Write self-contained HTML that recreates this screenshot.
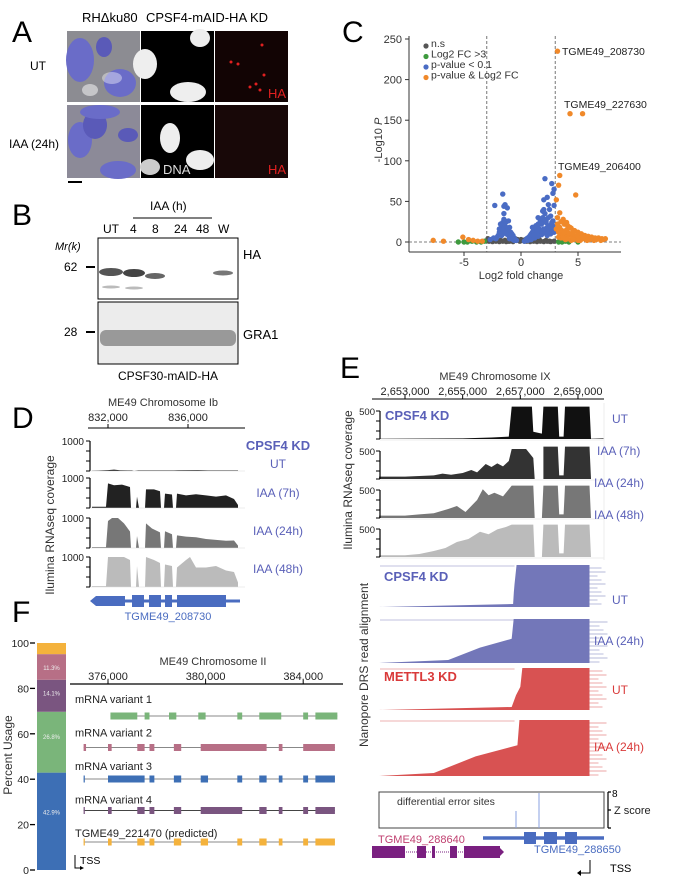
<!DOCTYPE html>
<html><head><meta charset="utf-8"><style>
html,body{margin:0;padding:0;background:#fff;}
svg{display:block;font-family:"Liberation Sans",Arial,sans-serif;}
</style></head><body>
<svg id="fig" width="678" height="890" viewBox="0 0 678 890" xmlns="http://www.w3.org/2000/svg">
<g>
<text x="12" y="42" font-size="30">A</text>
<text x="82" y="22" font-size="13">RHΔku80</text>
<text x="146" y="22" font-size="13">CPSF4-mAID-HA KD</text>
<text x="30" y="70" font-size="12">UT</text>
<text x="9" y="148" font-size="12">IAA (24h)</text>
<rect x="67" y="31" width="73" height="71" fill="#8c8c92"/>
<ellipse cx="80" cy="60" rx="14" ry="22" fill="#6a6cc8"/><ellipse cx="104" cy="47" rx="8" ry="10" fill="#5a5ab8"/><ellipse cx="120" cy="83" rx="16" ry="14" fill="#6a6cc8"/><ellipse cx="90" cy="90" rx="8" ry="6" fill="#fff" opacity=".5"/><ellipse cx="112" cy="78" rx="10" ry="6" fill="#fff" opacity=".4"/>
<rect x="141" y="31" width="73" height="71" fill="#000"/>
<ellipse cx="145" cy="64" rx="12" ry="15" fill="#eee"/><ellipse cx="200" cy="38" rx="10" ry="9" fill="#eee"/><ellipse cx="188" cy="92" rx="18" ry="10" fill="#eee"/>
<rect x="215" y="31" width="73" height="71" fill="#120404"/>
<text x="268" y="98" font-size="13" fill="#e02020">HA</text>
<circle cx="231" cy="62" r="1.5" fill="#e02020"/><circle cx="238" cy="64" r="1.5" fill="#e02020"/><circle cx="262" cy="45" r="1.5" fill="#e02020"/><circle cx="264" cy="75" r="1.5" fill="#e02020"/><circle cx="256" cy="84" r="1.5" fill="#e02020"/><circle cx="260" cy="90" r="1.5" fill="#e02020"/><circle cx="250" cy="87" r="1.5" fill="#e02020"/>
<rect x="67" y="105" width="73" height="73" fill="#8c8a98"/>
<ellipse cx="80" cy="140" rx="12" ry="18" fill="#6a6cc8"/><ellipse cx="95" cy="125" rx="12" ry="14" fill="#5a5ab8"/><ellipse cx="118" cy="170" rx="18" ry="9" fill="#6a6cc8"/><ellipse cx="100" cy="112" rx="20" ry="7" fill="#6a6cc8"/><ellipse cx="128" cy="135" rx="10" ry="7" fill="#5a5ab8"/>
<rect x="141" y="105" width="73" height="73" fill="#000"/>
<ellipse cx="170" cy="138" rx="10" ry="15" fill="#eee"/><ellipse cx="200" cy="160" rx="14" ry="10" fill="#eee"/><ellipse cx="150" cy="167" rx="10" ry="8" fill="#ccc"/>
<text x="163" y="174" font-size="13" fill="#ddd">DNA</text>
<rect x="215" y="105" width="73" height="73" fill="#180808"/>
<text x="268" y="174" font-size="13" fill="#e02020">HA</text>
<rect x="68" y="181" width="14" height="2" fill="#000"/>
</g>
<g>
<text x="12" y="225" font-size="30">B</text>
<text x="150" y="210" font-size="12">IAA (h)</text>
<line x1="133" y1="218" x2="212" y2="218" stroke="#000" stroke-width="1"/>
<text y="233" font-size="12"><tspan x="103">UT</tspan><tspan x="130">4</tspan><tspan x="152">8</tspan><tspan x="174">24</tspan><tspan x="196">48</tspan><tspan x="218">W</tspan></text>
<text x="55" y="250" font-size="11" font-style="italic">Mr(k)</text>
<text x="64" y="271" font-size="12">62</text><rect x="86" y="266" width="9" height="2"/>
<text x="64" y="336" font-size="12">28</text><rect x="86" y="331" width="9" height="2"/>
<rect x="98" y="238" width="140" height="61" fill="#fff" stroke="#000"/>
<ellipse cx="111" cy="272" rx="12" ry="4" fill="#555"/><ellipse cx="134" cy="273" rx="11" ry="4" fill="#444"/><ellipse cx="155" cy="276" rx="10" ry="3" fill="#666"/><ellipse cx="223" cy="273" rx="10" ry="2.5" fill="#777"/>
<ellipse cx="111" cy="287" rx="9" ry="1.5" fill="#bbb"/><ellipse cx="134" cy="288" rx="9" ry="1.5" fill="#bbb"/>
<rect x="98" y="302" width="140" height="62" fill="#ececec" stroke="#000"/>
<rect x="100" y="330" width="136" height="16" fill="#999" rx="6"/>
<text x="243" y="259" font-size="13">HA</text>
<text x="243" y="339" font-size="13">GRA1</text>
<text x="168" y="380" font-size="12" text-anchor="middle">CPSF30-mAID-HA</text>
</g>
<g id="volcano"></g>
<g id="panelD"></g>
<g id="panelE"></g>
<g id="panelF"></g>
</svg>
<script>
const NS="http://www.w3.org/2000/svg";
function mk(p,tag,a,txt){const e=document.createElementNS(NS,tag);for(const k in a)e.setAttribute(k,a[k]);if(txt!==undefined)e.textContent=txt;p.appendChild(e);return e;}

const volcTicksX=[-5,0,5];
const volcTicksY=[0,50,100,150,200,250];
const nsX=[-2.8,-2.5,-2.2,-1.9,-1.6,-1.3,-1,-0.7,-0.4,-0.1,0.2,0.5,0.8,1.1,1.4,1.7,2,2.3,2.6,2.9,-2.6,-1.4,-0.3,0.4,1.2,2.2,-2.9,-2.3,-1.8,-1.1,-0.5,0,0.3,0.9,1.6,2.5];
const nsY=[1,0.5,1,0.5,1,0.5,1,0.5,2,1,2,1,0.5,1,0.5,1,0.5,1,0.5,1,3,2,3,3,2,2,4,3,2,1,4,3,1,2,3,1];
const fcX=[-5.5,-5,-4.7,-4.3,-3.9,-3.5,-3.2,3.3,3.6,3.9,4.2,5,3.5];
const fcY=[0,0,0,1,0,0,1,0,0,1,0,0,2];
const pX=[-2.3,-1.6,-1.5,-1.4,-1.2,-1.3,-1.1,-1.5,-1.0,-0.9,-0.8,-0.7,-0.6,-0.5,-0.4,-1.4,-1.6,-1.8,-2,-2.4,-2.7,-1.2,-1.0,-0.8,-0.6,
 0.4,0.5,0.7,0.9,1.1,1.3,1.5,1.7,1.9,2.1,2.3,2.5,2.7,2.9,2.0,2.1,2.4,2.8,1.8,1.4,1.0,0.6,2.6,2.2,1.6,1.2,0.8,2.9,2.5,2.0,1.5,2.3,2.8,1.9,
 -1.9,-1.7,-1.5,-1.3,-1.1,-0.9,-1.8,-1.6,-1.4,-1.2,-2.1,-1.7,-1.3,-2.2,-1.5,-1.0,-0.7,-1.9,-1.4,-1.1,
 0.3,0.6,0.9,1.2,1.5,1.8,2.1,2.4,2.7,1.0,1.3,1.6,1.9,2.2,2.5,2.8,1.4,1.7,2.0,2.3,2.6,2.9,0.8,1.1,1.8,2.1,2.4,2.7,1.5,2.0];
const pY=[45,59,44,46,42,25,26,35,18,12,10,8,5,3,2,15,20,10,8,5,3,12,6,4,2,
 2,4,6,10,14,18,22,26,30,78,55,40,72,65,52,35,46,60,28,20,12,5,32,24,16,8,3,45,20,14,10,8,26,38,
 12,14,16,18,10,6,22,24,20,14,6,8,10,4,28,4,3,16,12,8,
 1,2,3,5,7,9,11,13,15,18,20,22,24,26,18,20,12,14,16,18,10,12,8,8,22,28,30,24,30,40];
const bX=[3.2,4.3,5.4,3.4,3.3,4.8,3.1,-7.7,-6.8,-5.1,-4.6,-4.2,-3.8,-3.4,
 3.2,3.5,3.8,4.1,4.4,4.7,5,5.3,5.6,5.9,6.2,6.5,6.8,7.1,7.4,3.3,3.6,3.9,4.2,4.5,4.8,5.1,5.4,5.7,6,3.4,3.7,4,4.3,4.6,3.5,3.9,4.4,5.2,6.4,7,3.1,3.6,
 3.2,3.4,3.6,3.8,4.0,4.2,4.5,4.9,5.5,6.1,6.6,7.2,3.3,3.7,4.1,4.6,5.0,5.8];
const bY=[235,158,158,82,70,58,52,2,1,6,3,2,1,1,
 30,25,22,20,17,14,12,10,8,7,6,5,5,4,4,12,10,8,9,7,6,5,4,3,3,36,28,24,18,13,5,3,2,2,2,2,16,8,
 22,18,14,12,15,11,10,8,6,4,3,3,6,5,4,3,2,2];

(function(){
 const g=document.getElementById('volcano');
 const sx=v=>521+v*11.4, sy=v=>242-v*0.812;
 mk(g,'text',{x:342,y:42,'font-size':30,},'C');
 mk(g,'line',{x1:409,y1:36,x2:409,y2:252,stroke:'#333'});
 mk(g,'line',{x1:409,y1:252,x2:621,y2:252,stroke:'#333'});
 volcTicksY.forEach(t=>{mk(g,'line',{x1:405,x2:409,y1:sy(t),y2:sy(t),stroke:'#333'});
  const e=mk(g,'text',{x:402,y:sy(t)+4,'font-size':11,'text-anchor':'end',fill:'#333'},String(t));
  });
 volcTicksX.forEach(t=>{mk(g,'line',{x1:sx(t),x2:sx(t),y1:252,y2:256,stroke:'#333'});
  const e=mk(g,'text',{x:sx(t),y:266,'font-size':11,'text-anchor':'middle',fill:'#333'},String(t));
  });
 mk(g,'line',{x1:sx(-3),x2:sx(-3),y1:36,y2:252,stroke:'#555','stroke-dasharray':'3,2','stroke-width':0.8});
 mk(g,'line',{x1:sx(3),x2:sx(3),y1:36,y2:252,stroke:'#555','stroke-dasharray':'3,2','stroke-width':0.8});
 mk(g,'line',{x1:409,x2:621,y1:sy(0),y2:sy(0),stroke:'#555','stroke-dasharray':'3,2','stroke-width':0.8});
 const groups=[[nsX,nsY,'#555','dot-ns'],[fcX,fcY,'#3e9a3e','dot-fc'],[pX,pY,'#4a6cc4','dot-pvalue'],[bX,bY,'#f0892a','dot-both']];
 groups.forEach(([X,Y,c,n])=>X.forEach((x,i)=>{const d=mk(g,'circle',{cx:sx(x),cy:sy(Y[i]),r:2.7,fill:c});
  }));
 const leg=[['n.s','#555'],['Log2 FC >3','#3e9a3e'],['p-value < 0.1','#4a6cc4'],['p-value & Log2 FC','#f0892a']];
 leg.forEach(([t,c],i)=>{const y=46+i*10.5;mk(g,'circle',{cx:426,cy:y,r:2.6,fill:c});
  const e=mk(g,'text',{x:431,y:y+1,'font-size':10.5,fill:'#333'},t);
  });
 [['TGME49_208730',562,55],['TGME49_227630',564,108],['TGME49_206400',558,170]].forEach(([t,x,y])=>{
  const e=mk(g,'text',{x:x,y:y,'font-size':10.5,fill:'#222'},t);});
 const xt=mk(g,'text',{x:521,y:279,'font-size':11,'text-anchor':'middle',fill:'#333'},'Log2 fold change');
 
 const yt=mk(g,'text',{x:0,y:0,'font-size':11,'text-anchor':'middle',fill:'#333',transform:'translate(382,140) rotate(-90)'},'-Log10 ');
 mk(yt,'tspan',{'font-style':'italic'},'P');
 
})();

function area(g,pts,sx,base,top,vmax,fill,name){
 const h=base-top;let d='M'+sx(pts[0][0])+','+base;
 pts.forEach(p=>{d+=' L'+sx(p[0]).toFixed(1)+','+(base-Math.min(p[1]/vmax,1.08)*h).toFixed(1);});
 d+=' L'+sx(pts[pts.length-1][0])+','+base+'Z';
 const e=mk(g,'path',{d:d,fill:fill});
}

const dTicks=[832,836];
const dUT=[[831.2,10],[832,30],[832.3,45],[832.6,25],[833.2,20],[833.3,0],[833.5,20],[835.3,20],[835.5,25],[836.5,30],[837,20],[838.5,20]];
const d7=[[831.2,40],[831.9,40],[832,820],[832.3,760],[832.7,780],[833.1,700],[833.15,0],[833.4,0],[833.45,380],[833.55,0],[833.85,0],[833.9,620],[834.3,620],[834.6,560],[834.65,0],[834.8,0],[834.85,480],[835.2,450],[835.25,0],[835.4,0],[835.45,480],[835.9,420],[836.4,460],[836.9,420],[837.4,380],[837.9,420],[838.3,300],[838.5,100]];
const d24=[[831.2,30],[831.9,30],[832,900],[832.2,1000],[832.5,1000],[832.8,820],[833.1,550],[833.15,0],[833.4,0],[833.45,400],[833.55,0],[833.85,0],[833.9,820],[834.2,650],[834.6,520],[834.65,0],[834.8,0],[834.85,560],[835.2,460],[835.25,0],[835.4,0],[835.45,420],[835.9,380],[836.4,360],[836.9,300],[837.4,270],[837.9,240],[838.3,250],[838.5,80]];
const d48=[[831.2,30],[831.9,30],[832,1000],[832.5,1000],[832.8,1000],[833.1,900],[833.15,0],[833.4,0],[833.45,700],[833.55,0],[833.85,0],[833.9,1000],[834.3,900],[834.6,800],[834.65,0],[834.8,0],[834.85,750],[835.2,700],[835.25,0],[835.4,0],[835.45,650],[835.9,900],[836.1,1000],[836.4,650],[836.9,650],[837.4,700],[837.9,550],[838.3,500],[838.5,150]];
(function(){
 const g=document.getElementById('panelD');const sx=v=>108+(v-832)*20;
 mk(g,'text',{x:12,y:428,'font-size':30,},'D');
 mk(g,'text',{x:163,y:406,'font-size':11,'text-anchor':'middle',fill:'#333'},'ME49 Chromosome Ib');
 mk(g,'line',{x1:88,x2:245,y1:428,y2:428,stroke:'#000'});
 dTicks.forEach(t=>{mk(g,'line',{x1:sx(t),x2:sx(t),y1:424,y2:428,stroke:'#000'});
  const e=mk(g,'text',{x:sx(t),y:421,'font-size':11,'text-anchor':'middle',fill:'#222'},(t)+',000');
  });
 const tr=[[dUT,'#111',471,'IAA-ut'],[d7,'#222',508,'IAA-7h'],[d24,'#777',548,'IAA-24h'],[d48,'#bbb',587,'IAA-48h']];
 tr.forEach(([pts,c,b,n])=>{const top=b-30;area(g,pts,sx,b,top,1000,c,'coverage-'+n);
  mk(g,'line',{x1:90,x2:90,y1:top,y2:b,stroke:'#000','stroke-width':1.2});
  [top,top+10,top+20,b].forEach(y=>mk(g,'line',{x1:86,x2:90,y1:y,y2:y,stroke:'#000'}));
  mk(g,'text',{x:84,y:top+4,'font-size':10,'text-anchor':'end',fill:'#222'},'1000');
  mk(g,'line',{x1:90,x2:245,y1:b,y2:b,stroke:'#ddd','stroke-width':0.6});});
 const lc='#5a60b8';
 mk(g,'text',{x:278,y:450,'font-size':13,'font-weight':'bold','text-anchor':'middle',fill:lc,},'CPSF4 KD');
 [['UT',468],['IAA (7h)',497],['IAA (24h)',535],['IAA (48h)',573]].forEach(([t,y])=>mk(g,'text',{x:278,y:y,'font-size':12,'text-anchor':'middle',fill:lc},t));
 mk(g,'text',{x:0,y:0,'font-size':12,'text-anchor':'middle',fill:'#333',transform:'translate(54,525) rotate(-90)',},'Ilumina RNAseq coverage');
 const gc='#4a6cc0';mk(g,'line',{x1:96,x2:240,y1:601,y2:601,stroke:gc,'stroke-width':3});
 mk(g,'polygon',{points:'90,601 96,596 125,596 125,606 96,606',fill:gc});
 [[sx(833.2),sx(833.8)],[sx(834.05),sx(834.65)],[sx(834.85),sx(835.2)],[sx(835.45),sx(837.9)]].forEach(([a,b])=>mk(g,'rect',{x:a,y:595,width:b-a,height:12,fill:gc}));
 mk(g,'text',{x:168,y:620,'font-size':11,'text-anchor':'middle',fill:gc,},'TGME49_208730');
})();

const eTicks=[2653,2655,2657,2659];
const eUT=[[2652.1,5],[2655,10],[2656,25],[2656.6,40],[2656.7,1000],[2657.4,1000],[2657.45,120],[2657.75,90],[2657.8,1000],[2658.3,1000],[2658.35,40],[2658.5,40],[2658.55,1000],[2659.4,1000],[2659.45,5],[2659.9,10]];
const e7=[[2652.1,40],[2653,40],[2653.5,50],[2654,60],[2654.3,90],[2654.6,70],[2655,100],[2655.3,150],[2655.5,110],[2655.8,250],[2656,200],[2656.2,260],[2656.4,210],[2656.6,300],[2656.7,500],[2657.2,500],[2657.45,350],[2657.5,0],[2657.5,0],[2657.8,0],[2657.8,1000],[2658.3,1000],[2658.35,60],[2658.5,60],[2658.55,1000],[2659.4,1000],[2659.45,0]];
const e24=[[2652.1,40],[2653,40],[2653.5,60],[2654,80],[2654.5,150],[2654.8,200],[2655.1,100],[2655.5,300],[2655.7,480],[2655.9,380],[2656.1,420],[2656.4,360],[2656.6,480],[2656.7,1000],[2657.45,1000],[2657.5,0],[2657.75,0],[2657.8,1000],[2658.3,1000],[2658.35,60],[2658.5,60],[2658.55,1000],[2659.4,1000],[2659.45,0]];
const e48=[[2652.1,30],[2653,30],[2653.5,50],[2654,100],[2654.4,150],[2654.8,250],[2655.2,300],[2655.6,420],[2655.9,380],[2656.2,460],[2656.5,500],[2656.7,1000],[2657.45,1000],[2657.5,0],[2657.75,0],[2657.8,1000],[2658.3,1000],[2658.35,60],[2658.5,60],[2658.55,1000],[2659.4,1000],[2659.45,0]];
(function(){
 const g=document.getElementById('panelE');const sx=v=>405+(v-2653)*28.83;
 mk(g,'text',{x:340,y:378,'font-size':30,},'E');
 mk(g,'text',{x:495,y:380,'font-size':11,'text-anchor':'middle',fill:'#333'},'ME49 Chromosome IX');
 mk(g,'line',{x1:372,x2:604,y1:399,y2:399,stroke:'#000'});
 eTicks.forEach(t=>{mk(g,'line',{x1:sx(t),x2:sx(t),y1:395,y2:399,stroke:'#000'});
  const e=mk(g,'text',{x:sx(t),y:395,'font-size':11,'text-anchor':'middle',fill:'#222'},'2,'+String(t).slice(1)+',000');
  });
 const tr=[[eUT,'#111',439],[e7,'#333',479],[e24,'#777',518],[e48,'#bbb',557]];
 tr.forEach(([pts,c,b],i)=>{const top=b-32;area(g,pts,sx,b,top+2,500,c,'coverage-track-'+i);
  mk(g,'line',{x1:380,x2:380,y1:top+4,y2:b,stroke:'#000','stroke-width':1.2});
  [top+4,top+14,top+24,b].forEach(y=>mk(g,'line',{x1:376,x2:380,y1:y,y2:y,stroke:'#000'}));
  mk(g,'text',{x:375,y:top+8,'font-size':9.5,'text-anchor':'end',fill:'#222'},'500');
  mk(g,'line',{x1:380,x2:604,y1:b+1,y2:b+1,stroke:'#ddd','stroke-width':0.6});});
 mk(g,'line',{x1:604,x2:604,y1:403,y2:560,stroke:'#eee'});
 const lc='#5a60b8',rc='#d93a3a',lcb='#7377b9',rcb='#d85252';
 mk(g,'text',{x:385,y:420,'font-size':13,'font-weight':'bold',fill:lc,},'CPSF4 KD');
 [['UT',612,423],['IAA (7h)',597,455],['IAA (24h)',594,487],['IAA (48h)',594,519]].forEach(([t,x,y])=>mk(g,'text',{x:x,y:y,'font-size':12,fill:lc},t));
 mk(g,'text',{x:0,y:0,'font-size':12,'text-anchor':'middle',fill:'#333',transform:'translate(352,480) rotate(-90)',},'Ilumina RNAseq coverage');
 const np=[[lcb,565,607,2656.8,2656.75,'cpsf4-ut'],[lcb,619,663,2656.7,2654.5,'cpsf4-iaa'],[rcb,668,710,2657.0,2656.7,'mettl3-ut'],[rcb,720,776,2656.9,2654.0,'mettl3-iaa']];
 np.forEach(([c,t,b,s1,s0,n])=>{const p=mk(g,'path',{d:`M${sx(2652.1)},${b} L${sx(s0)},${b-3} L${sx((s0+s1)/2)},${b-(b-t)*0.35} L${sx(s1)},${b-(b-t)*0.55} L${sx(s1)+2},${t} L${sx(2659.4)},${t} L${sx(2659.4)},${b} Z`,fill:c});
  
  mk(g,'line',{x1:380,x2:sx(2656.8),y1:t+1,y2:t+1,stroke:c,'stroke-width':0.8,opacity:0.6});
  for(let y=t+3;y<b;y+=4){mk(g,'line',{x1:sx(2659.4),x2:sx(2659.4)+8+((y*7)%12),y1:y,y2:y,stroke:c,'stroke-width':0.7,opacity:0.7});}});
 mk(g,'text',{x:384,y:581,'font-size':13,'font-weight':'bold',fill:lc},'CPSF4 KD');
 mk(g,'text',{x:384,y:681,'font-size':13,'font-weight':'bold',fill:rc,},'METTL3 KD');
 mk(g,'text',{x:612,y:604,'font-size':12,fill:lc},'UT');
 mk(g,'text',{x:594,y:645,'font-size':12,fill:lc},'IAA (24h)');
 mk(g,'text',{x:612,y:694,'font-size':12,fill:rc},'UT');
 mk(g,'text',{x:594,y:751,'font-size':12,fill:rc},'IAA (24h)');
 mk(g,'text',{x:0,y:0,'font-size':12,'text-anchor':'middle',fill:'#333',transform:'translate(368,665) rotate(-90)',},'Nanopore DRS read alignment');
 mk(g,'rect',{x:379,y:792,width:225,height:36,fill:'#fff',stroke:'#444',});
 mk(g,'text',{x:397,y:805,'font-size':10.5,fill:'#333'},'differential error sites');
 mk(g,'line',{x1:516,x2:516,y1:811,y2:828,stroke:'#8aa0e0'});
 mk(g,'line',{x1:539,x2:539,y1:793,y2:828,stroke:'#8aa0e0'});
 mk(g,'path',{d:'M608,792 L608,828 M608,792 L611,792 M608,828 L611,828 M608,810 L611,810',stroke:'#000',fill:'none','stroke-width':1.2});
 mk(g,'text',{x:612,y:797,'font-size':10},'8');
 mk(g,'text',{x:614,y:814,'font-size':11,fill:'#222'},'Z score');
 const bc='#4a6cc0';mk(g,'line',{x1:483,x2:604,y1:838,y2:838,stroke:bc,'stroke-width':3.5});
 [[524,536],[544,557],[565,577]].forEach(([a,b])=>mk(g,'rect',{x:a,y:832,width:b-a,height:12,fill:bc}));
 mk(g,'text',{x:534,y:853,'font-size':11,fill:bc},'TGME49_288650');
 mk(g,'text',{x:378,y:843,'font-size':11,fill:'#c04070'},'TGME49_288640');
 const pc='#7a2080';mk(g,'line',{x1:372,x2:500,y1:852,y2:852,stroke:pc,'stroke-width':1,'stroke-dasharray':'1,1'});
 [[372,405,6],[417,426,6],[432,435,6],[450,457,6],[464,500,6]].forEach(([a,b,h])=>mk(g,'rect',{x:a,y:852-h,width:b-a,height:2*h,fill:pc}));
 mk(g,'polygon',{points:'500,848 504,852 500,856',fill:pc});
 mk(g,'path',{d:'M590,860 L590,873 L580,873',stroke:'#000',fill:'none'});
 mk(g,'polygon',{points:'577,873 581,870 581,876',fill:'#000'});
 mk(g,'text',{x:610,y:872,'font-size':11},'TSS');
})();

const usageLabels=['42.9%','26.8%','14.1%','11.3%',''];
const usageValues=[42.9,26.8,14.1,11.3,4.9];
const usageColors=['#3d6fb5','#7ab57a','#7a5580','#b76f86','#f4b23c'];
const fTicks=[0,20,40,60,80,100];
const chrTicks=[376,380,384];
const variantNames=['mRNA variant 1','mRNA variant 2','mRNA variant 3','mRNA variant 4','TGME49_221470 (predicted)'];
const variantExons=[
 [[376.1,377.2],[377.5,377.7],[378.5,378.8],[379.7,380.0],[381.3,381.5],[382.2,383.1],[384.0,384.2],[384.5,385.4]],
 [[375.0,375.1],[376.0,376.15],[377.2,377.5],[377.7,377.9],[378.7,379.0],[379.8,382.5],[383.0,383.15],[384.0,385.3]],
 [[375.0,375.05],[376.0,377.5],[377.7,377.9],[378.7,379.0],[379.8,380.1],[381.3,381.5],[382.2,382.5],[383.0,383.15],[384.0,384.2],[384.5,385.3]],
 [[375.0,375.05],[376.0,376.15],[377.2,377.5],[377.7,377.9],[378.7,379.0],[379.8,381.5],[382.2,382.5],[383.0,383.15],[384.0,384.2],[384.5,385.3]],
 [[375.0,375.05],[376.0,376.15],[377.2,377.5],[377.7,377.9],[378.7,379.0],[379.8,380.1],[381.3,381.5],[382.2,382.5],[383.0,383.15],[384.0,384.2],[384.5,385.3]]];
(function(){
 const g=document.getElementById('panelF');
 const sy=v=>870-v*2.27;
 mk(g,'text',{x:12,y:622,'font-size':30,},'F');
 let acc=0;
 usageValues.forEach((v,i)=>{const y0=sy(acc+v),h=v*2.27;
  const r=mk(g,'rect',{x:37,y:y0,width:29,height:h,fill:usageColors[i]});
  
  if(usageLabels[i])mk(g,'text',{x:51.5,y:y0+h/2-(i<3?h*0.1:0)+3,'font-size':6,'text-anchor':'middle',fill:'#eee'},usageLabels[i]);
  acc+=v;});
 fTicks.forEach(t=>{mk(g,'line',{x1:30,x2:35,y1:sy(t),y2:sy(t),stroke:'#000','stroke-width':1.3});
  const e=mk(g,'text',{x:29,y:sy(t)+4,'font-size':10.5,'text-anchor':'end',fill:'#222'},String(t));
  });
 mk(g,'text',{x:0,y:0,'font-size':12,'text-anchor':'middle',fill:'#333',transform:'translate(12,755) rotate(-90)',},'Percent Usage');
 const sx=v=>108+(v-376)*24.4;
 mk(g,'text',{x:213,y:665,'font-size':11,'text-anchor':'middle',fill:'#333'},'ME49 Chromosome II');
 mk(g,'line',{x1:70,x2:343,y1:684,y2:684,stroke:'#000','stroke-width':1.2});
 chrTicks.forEach(t=>{mk(g,'line',{x1:sx(t),x2:sx(t),y1:680,y2:684,stroke:'#000'});
  const e=mk(g,'text',{x:sx(t),y:680,'font-size':11,'text-anchor':'middle',fill:'#222'},t+',000');
  });
 const vc=['#7ab57a','#b76f86','#3d6fb5','#7a5580','#f4b23c'];
 variantNames.forEach((n,i)=>{const ty=703+i*33.5,y=716+i*31.5;
  const t=mk(g,'text',{x:75,y:ty,'font-size':11,fill:'#222'},n);
  
  const ex=variantExons[i];
  mk(g,'line',{x1:sx(ex[0][0]),x2:sx(ex[ex.length-1][1]),y1:y,y2:y,stroke:i==3?'#444':'#888','stroke-width':1});
  ex.forEach(([a,b])=>{const r=mk(g,'rect',{x:sx(a),y:y-3.5,width:Math.max(1,sx(b)-sx(a)),height:7,fill:vc[i]});
   });});
 mk(g,'path',{d:'M75,855 L75,868 L82,868',stroke:'#000',fill:'none'});
 mk(g,'polygon',{points:'84,868 80,866 80,870',fill:'#000'});
 mk(g,'text',{x:80,y:864,'font-size':10.5},'TSS');
})();
</script>
</body></html>
